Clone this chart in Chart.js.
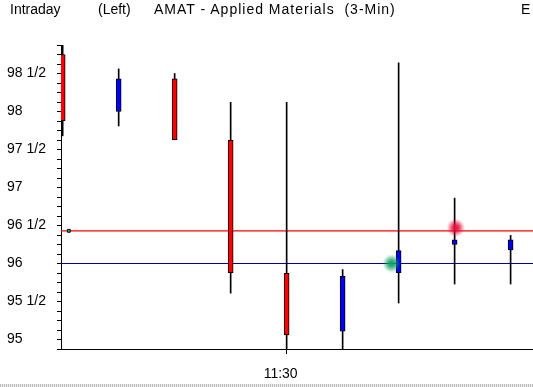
<!DOCTYPE html>
<html>
<head>
<meta charset="utf-8">
<script src="https://cdn.jsdelivr.net/npm/chart.js@4/dist/chart.umd.min.js"></script>
<style>
  html, body { margin: 0; padding: 0; background: #fff; }
  #wrap { position: relative; width: 533px; height: 387px; overflow: hidden; }
  #chart { position: absolute; left: 0; top: 0; }
  .hd { position: absolute; top: 1px; font: 14px "Liberation Sans", sans-serif; line-height: 16px; color: #000; white-space: pre; }
  #strip { position: absolute; left: 0; top: 384px; width: 533px; height: 3px;
           background: repeating-linear-gradient(90deg, #bbb 0 1px, #eee 1px 2px); }
</style>
</head>
<body>
<div id="wrap">
  <canvas id="chart" width="533" height="387"></canvas>
  <div class="hd" style="left:10px">Intraday</div>
  <div class="hd" style="left:98px">(Left)</div>
  <div class="hd" style="left:154px; letter-spacing:1px">AMAT - Applied Materials  (3-Min)</div>
  <div class="hd" style="left:521px">E</div>
  <div id="strip"></div>
</div>
<script>
// 3-minute bars, index 0..8
const xLabels = ['', '', '', '', '11:30', '', '', '', ''];
const opens  = [98.75, 98.00, 98.43, 97.62, 95.87, 95.11, 95.88, 96.25, 96.18];
const highs  = [98.87, 98.56, 98.50, 98.12, 98.12, 95.92, 98.64, 96.86, 96.37];
const lows   = [97.68, 97.81, 97.63, 95.61, 94.80, 94.86, 95.48, 95.73, 95.73];
const closes = [97.88, 98.43, 97.63, 95.88, 95.06, 95.83, 96.17, 96.31, 96.31];

// reference levels
const redLevel = 96.43;
const blueLevel = 96.0;

// markers [x index, price]
const greenGlow = [5.875, 96.0];
const redGlow = [7.02, 96.47];
const smallMark = [0.11, 96.43];

const xMin = -0.03, xMax = 8.4;
const yMin = 94.875, yMax = 98.875;

function glowSprite(r, g, b) {
    const c = document.createElement('canvas');
    c.width = 18; c.height = 18;
    const ctx = c.getContext('2d');
    const grad = ctx.createRadialGradient(9, 9, 0, 9, 9, 9);
    grad.addColorStop(0, `rgba(${r},${g},${b},1)`);
    grad.addColorStop(0.35, `rgba(${r},${g},${b},0.85)`);
    grad.addColorStop(1, `rgba(${r},${g},${b},0)`);
    ctx.fillStyle = grad;
    ctx.fillRect(0, 0, 18, 18);
    return c;
}

function fracLabel(v) {
    const whole = Math.floor(v + 1e-9);
    const rest = v - whole;
    if (Math.abs(rest) < 1e-6) return String(whole);
    if (Math.abs(rest - 0.5) < 1e-6) return whole + ' 1/2';
    return '';
}

const idx = opens.map((_, i) => i);
const bodyColors = idx.map(i => closes[i] < opens[i] ? '#ff0000' : '#0000ff');

const datasets = [
    {
        type: 'scatter', order: 0,
        data: [{ x: greenGlow[0], y: greenGlow[1] }],
        pointStyle: glowSprite(16, 160, 96), pointRadius: 9
    },
    {
        type: 'scatter', order: 0,
        data: [{ x: redGlow[0], y: redGlow[1] }],
        pointStyle: glowSprite(230, 16, 60), pointRadius: 9
    },
    {
        type: 'scatter', order: 0,
        data: [{ x: smallMark[0], y: smallMark[1] }],
        pointStyle: 'rect', pointRadius: 2, backgroundColor: '#20b0b0',
        borderColor: '#000', borderWidth: 1
    },
    {
        type: 'bar', order: 1, grouped: false,
        data: idx.map(i => ({ x: i, y: [opens[i], closes[i]] })),
        backgroundColor: bodyColors, borderColor: '#000', borderWidth: 1,
        borderSkipped: false, barThickness: 5
    },
    {
        type: 'bar', order: 2, grouped: false,
        data: idx.map(i => ({ x: i, y: [lows[i], highs[i]] })),
        backgroundColor: '#000', borderWidth: 0, barThickness: 1
    },
    {
        type: 'line', order: 3,
        data: [{ x: xMin, y: redLevel }, { x: xMax, y: redLevel }],
        borderColor: '#ff0000', borderWidth: 1.2, pointRadius: 0
    },
    {
        type: 'line', order: 3,
        data: [{ x: xMin, y: blueLevel }, { x: xMax, y: blueLevel }],
        borderColor: '#0000a8', borderWidth: 1.2, pointRadius: 0
    }
];

new Chart(document.getElementById('chart'), {
    type: 'bar',
    data: { datasets },
    options: {
        responsive: false,
        devicePixelRatio: 1,
        animation: false,
        layout: { autoPadding: false, padding: { top: 45, left: 7, right: 0, bottom: 0 } },
        plugins: { legend: { display: false }, tooltip: { enabled: false } },
        scales: {
            x: {
                type: 'linear', min: xMin, max: xMax, offset: false,
                afterBuildTicks: s => { s.ticks = xLabels.map((l, i) => ({ value: i })).filter(t => xLabels[t.value]); },
                afterFit: s => { s.height = 38; },
                ticks: {
                    callback: v => xLabels[Math.round(v)] || '',
                    color: '#000', padding: 12, labelOffset: -6, maxRotation: 0,
                    font: { family: 'Liberation Sans', size: 14 }
                },
                grid: { offset: false, drawOnChartArea: false, tickLength: 5, tickColor: '#000' },
                border: { color: '#000', width: 1 }
            },
            y: {
                type: 'linear', min: yMin, max: yMax,
                afterFit: s => { s.width = 54; },
                ticks: {
                    stepSize: 0.125, maxTicksLimit: 100, autoSkip: false,
                    callback: v => fracLabel(v),
                    crossAlign: 'far', color: '#000',
                    font: { family: 'Liberation Sans', size: 14 }
                },
                grid: { drawOnChartArea: false, tickLength: 4, tickColor: '#000' },
                border: { color: '#000', width: 1 }
            }
        }
    }
});
</script>
</body>
</html>
